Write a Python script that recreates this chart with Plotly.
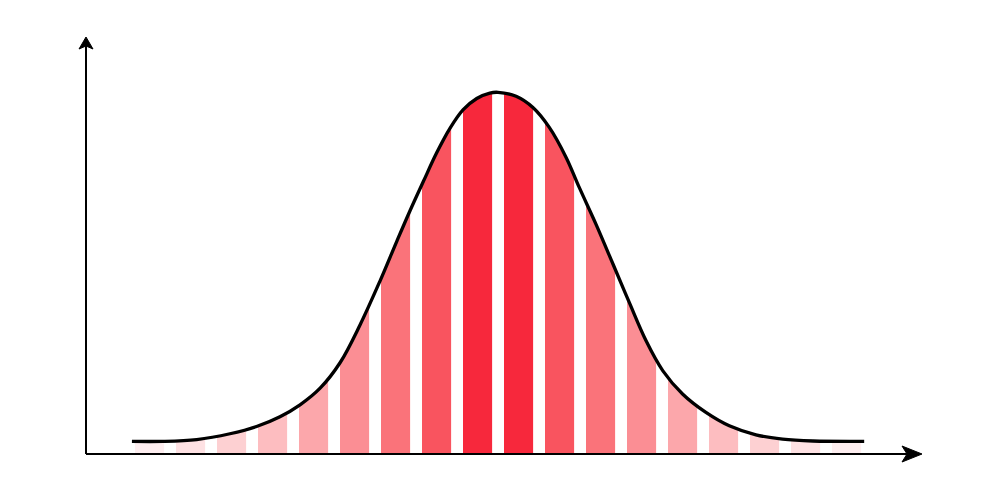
import plotly.graph_objects as go

# Bell curve (x in stripe units from centre, y as % of peak height)
curve_x = [-8.93, -8.17, -7.35, -6.54, -5.89, -5.32, -4.83, -4.34, -3.85, -3.37, -2.88,
           -2.47, -2.15, -1.82, -1.50, -1.17, -0.85, -0.52, -0.20, 0.0, 0.44, 0.85,
           1.25, 1.66, 1.98, 2.39, 2.80, 3.20, 3.61, 4.02, 4.50, 5.07, 5.64, 6.29,
           6.94, 7.68, 8.93]
curve_y = [3.5, 3.5, 4.0, 5.6, 7.6, 10.3, 13.6, 18.2, 25.3, 35.6, 47.8,
           58.8, 67.2, 75.4, 83.2, 90.1, 95.2, 98.3, 99.8, 100.0, 98.9, 95.8,
           90.3, 82.0, 73.7, 63.5, 52.6, 41.9, 31.3, 23.0, 16.6, 11.5, 7.8, 5.3,
           4.1, 3.6, 3.5]

# Stripes (bars) clipped by the curve
stripe_x = [-8.5, -7.5, -6.5, -5.5, -4.5, -3.5, -2.5, -1.5, -0.5,
            0.5, 1.5, 2.5, 3.5, 4.5, 5.5, 6.5, 7.5, 8.5]
stripe_top = [3.9, 4.6, 7.0, 11.5, 21.5, 43.0, 69.0, 92.0, 101.0,
              101.0, 93.0, 71.0, 44.0, 22.5, 12.0, 6.6, 4.5, 3.9]
stripe_colors = ["#FEEEF0", "#FEE1E3", "#FDD0D2", "#FDBDC0", "#FCA7AB",
                 "#FB8E94", "#FA737A", "#F9545F", "#F7283C",
                 "#F7283C", "#F9545F", "#FA737A", "#FB8E94", "#FCA7AB",
                 "#FDBDC0", "#FDD0D2", "#FEE1E3", "#FEEEF0"]

fig = go.Figure()

fig.add_trace(go.Bar(
    x=stripe_x, y=stripe_top, width=0.71,
    marker=dict(color=stripe_colors, line=dict(width=0)),
    hoverinfo="skip", showlegend=False,
))

# invisible curve used as the lower edge of the white mask
fig.add_trace(go.Scatter(
    x=curve_x, y=curve_y, mode="lines",
    line=dict(color="rgba(0,0,0,0)", width=0, shape="spline", smoothing=1.0),
    hoverinfo="skip", showlegend=False,
))
# white mask above the curve
fig.add_trace(go.Scatter(
    x=[curve_x[0], curve_x[-1]], y=[106, 106], mode="lines",
    line=dict(color="rgba(0,0,0,0)", width=0),
    fill="tonexty", fillcolor="white",
    hoverinfo="skip", showlegend=False,
))
# visible curve
fig.add_trace(go.Scatter(
    x=curve_x, y=curve_y, mode="lines",
    line=dict(color="black", width=3.3, shape="spline", smoothing=1.0),
    hoverinfo="skip", showlegend=False,
))

shapes = [
    # x axis
    dict(type="line", xref="paper", yref="paper", x0=0, x1=0.985, y0=0, y1=0,
         line=dict(color="black", width=2), layer="above"),
    # y axis
    dict(type="line", xref="paper", yref="paper", x0=0, x1=0, y0=0, y1=0.985,
         line=dict(color="black", width=2), layer="above"),
    # right arrow head
    dict(type="path", xref="paper", yref="paper", xsizemode="pixel", ysizemode="pixel",
         xanchor=1, yanchor=0,
         path="M 0 0 L -20 8 L -15 0 L -20 -8 Z",
         fillcolor="black", line=dict(color="black", width=1), layer="above"),
    # up arrow head
    dict(type="path", xref="paper", yref="paper", xsizemode="pixel", ysizemode="pixel",
         xanchor=0, yanchor=1,
         path="M 0 0 L -7 -12 L 0 -9 L 7 -12 Z",
         fillcolor="black", line=dict(color="black", width=1), layer="above"),
]

fig.update_layout(
    width=1000, height=500,
    margin=dict(l=78, r=86, t=29, b=53.5),
    paper_bgcolor="white", plot_bgcolor="white",
    xaxis=dict(range=[-10.05, 10.34], visible=False, fixedrange=True),
    yaxis=dict(range=[0, 115.3], visible=False, fixedrange=True),
    shapes=shapes,
    showlegend=False,
)

fig.write_html("out.html")
